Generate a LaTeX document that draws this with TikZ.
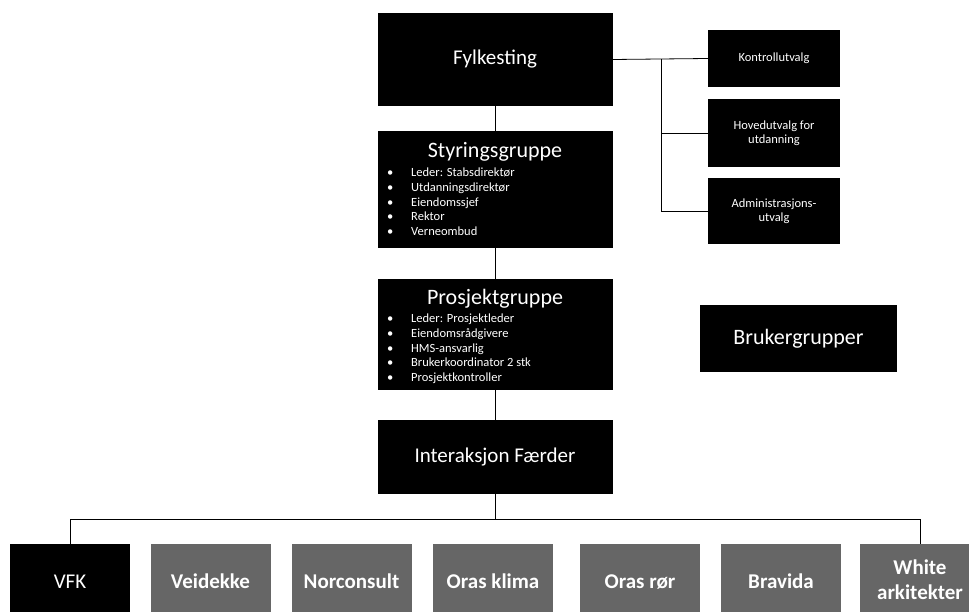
\documentclass[tikz,border=0pt]{standalone}
\usepackage{fontspec}
\setmainfont{Carlito}
\newcommand{\punkt}[1]{\makebox[24pt][l]{\textbullet}#1\\}
\tikzset{
  box/.style={rectangle,fill=black,text=white,inner sep=0pt,align=center},
  hoved/.style={box,minimum width=235pt},
  utvalg/.style={box,minimum width=132pt,font=\fontsize{12.5}{14.5}\selectfont},
  firma/.style={box,fill=black!60,minimum width=120pt,minimum height=72pt,font=\fontsize{21}{25}\selectfont\bfseries},
  enlinje/.style={text height=16pt,text depth=0pt},
  tittel/.style={text=white,inner sep=0pt,anchor=base,font=\fontsize{22}{24}\selectfont},
  liste/.style={text=white,inner sep=0pt,anchor=base west,font=\fontsize{12.5}{14.6}\selectfont},
  linje/.style={line width=0.8pt}
}
\begin{document}
\begin{tikzpicture}[x=1pt,y=-1pt]
    \useasboundingbox (0,0) rectangle (969,612);
    \clip (0,0) rectangle (969,612);

    % main chain
    \node[hoved,minimum height=93pt,font=\fontsize{21}{23}\selectfont] (fylke) at (495,59.5) {Fylkesting} ;
    \node[hoved,minimum height=117pt] (styr) at (495,189.5) {} ;
    \node[hoved,minimum height=111pt] (prosj) at (495,334.5) {} ;
    \node[hoved,minimum height=74pt,font=\fontsize{21}{23}\selectfont] (inter) at (495,457) {Interaksjon Færder} ;

    \node[tittel] (styr_tittel) at (495,158) {Styringsgruppe} ;
    \node[liste] (styr_liste) at (387,177) {\begin{tabular}[t]{@{}l@{}}
        \punkt{Leder: Stabsdirektør}
        \punkt{Utdanningsdirektør}
        \punkt{Eiendomssjef}
        \punkt{Rektor}
        \punkt{Verneombud}
      \end{tabular}} ;

    \node[tittel] (prosj_tittel) at (495,305) {Prosjektgruppe} ;
    \node[liste] (prosj_liste) at (387,323) {\begin{tabular}[t]{@{}l@{}}
        \punkt{Leder: Prosjektleder}
        \punkt{Eiendomsrådgivere}
        \punkt{HMS-ansvarlig}
        \punkt{Brukerkoordinator 2 stk}
        \punkt{Prosjektkontroller}
      \end{tabular}} ;

    % committees
    \node[utvalg,minimum height=57pt] (kontroll) at (774,58.5) {Kontrollutvalg} ;
    \node[utvalg,minimum height=68pt] (hovedutv) at (774,133) {Hovedutvalg for\\utdanning} ;
    \node[utvalg,minimum height=66pt] (admin) at (774,211) {Administrasjons-\\utvalg} ;
    \node[box,minimum width=197pt,minimum height=67pt,font=\fontsize{22}{24}\selectfont] (bruker) at (798.5,338.5) {Brukergrupper} ;

    % companies
    \node[firma,enlinje,fill=black,font=\fontsize{21}{25}\selectfont] (vfk) at (70,580) {VFK} ;
    \node[firma,enlinje] (veidekke) at (210.5,580) {Veidekke} ;
    \node[firma,enlinje] (norconsult) at (351.5,580) {Norconsult} ;
    \node[firma,enlinje] (klima) at (493,580) {Oras klima} ;
    \node[firma,enlinje] (ror) at (640,580) {Oras rør} ;
    \node[firma,enlinje] (bravida) at (781,580) {Bravida} ;
    \node[firma] (white) at (920,580) {White\\arkitekter} ;

    \coordinate (gren) at (661,59.5) ;
    \coordinate (buss) at (495,519) ;

    \draw[linje] (fylke.south) -- (styr.north) ;
    \draw[linje] (styr.south) -- (prosj.north) ;
    \draw[linje] (prosj.south) -- (inter.north) ;
    \draw[linje] (fylke.east) -- (kontroll.west) ;
    \draw[linje] (gren) |- (hovedutv.west) ;
    \draw[linje] (gren) |- (admin.west) ;
    \draw[linje] (inter.south) -- (buss) ;
    \draw[linje] (buss) -| (vfk.north) ;
    \draw[linje] (buss) -| (white.north) ;
\end{tikzpicture}
\end{document}
